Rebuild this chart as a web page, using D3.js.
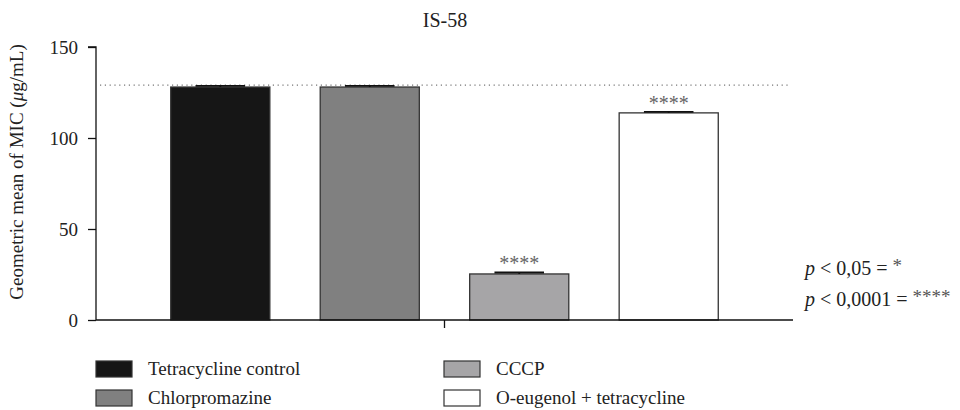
<!DOCTYPE html>
<html><head><meta charset="utf-8">
<script src="https://cdn.jsdelivr.net/npm/d3@7"></script>
<style>body{margin:0;background:#fff}svg{display:block}text{font-family:"Liberation Serif","DejaVu Serif",serif;fill:#222}</style>
</head><body>
<svg id="c" width="960" height="410"></svg>
<script>
const categories = ["Tetracycline control","Chlorpromazine","CCCP","O-eugenol + tetracycline"];
const values = [128, 128, 25.3, 113.8];
const errors = [0.6, 0.6, 0.8, 0.6];
const significance = ["", "", "****", "****"];
const colors = ["#161616","#808080","#a6a5a7","#ffffff"];
const yTicks = [0, 50, 100, 150];
const referenceLine = 129;
const title = "IS-58";

const svg = d3.select("#c");
const x0 = 96, x1 = 793, yTop = 47, yBot = 320;
const x = d3.scaleBand().domain(categories).range([x0, x1]).paddingInner(0.337).paddingOuter(0.5);
const y = d3.scaleLinear().domain([0, 150]).range([yBot, yTop]);

svg.append("text").attr("x", 445).attr("y", 27).attr("text-anchor","middle").attr("font-size",20).text(title);

// reference dotted line
svg.append("line").attr("x1", 100).attr("x2", 790).attr("y1", y(referenceLine)).attr("y2", y(referenceLine))
  .attr("stroke","#777").attr("stroke-width",1.2).attr("stroke-dasharray","1.2,3.6");

// bars
svg.selectAll("rect.bar").data(categories).enter().append("rect").attr("class","bar")
  .attr("x", d => x(d)).attr("width", x.bandwidth())
  .attr("y", (d,i) => y(values[i])).attr("height", (d,i) => y(0) - y(values[i]))
  .attr("fill", (d,i) => colors[i]).attr("stroke","#333").attr("stroke-width",1.3);

// error bars
categories.forEach((d,i) => {
  const cx = x(d) + x.bandwidth()/2, hw = x.bandwidth()/4;
  const g = svg.append("g").attr("stroke","#111").attr("stroke-width",1.8);
  g.append("line").attr("x1",cx-hw).attr("x2",cx+hw).attr("y1",y(values[i]+errors[i])).attr("y2",y(values[i]+errors[i]));
  g.append("line").attr("x1",cx).attr("x2",cx).attr("y1",y(values[i]+errors[i])).attr("y2",y(values[i]));
  if (significance[i]) {
    svg.append("text").attr("x",cx).attr("y",y(values[i]+errors[i])-2).attr("text-anchor","middle")
      .attr("font-size",20).style("fill","#666").text(significance[i]);
  }
});

// y axis
const yAxis = d3.axisLeft(y).tickValues(yTicks).tickSize(8).tickPadding(10);
const ga = svg.append("g").attr("transform",`translate(${x0},0)`).call(yAxis);
ga.select(".domain").attr("d", `M-8,${yTop}H0V${yBot}`).attr("stroke","#111").attr("stroke-width",1.3);
ga.selectAll(".tick line").attr("stroke","#111").attr("stroke-width",1.3);
ga.selectAll("text").attr("font-size",19).attr("font-family","Liberation Serif, serif").style("fill","#222");

// x axis baseline with middle tick
const gx = svg.append("g");
gx.append("line").attr("x1",x0).attr("x2",x1).attr("y1",yBot).attr("y2",yBot).attr("stroke","#111").attr("stroke-width",1.3);
gx.append("line").attr("x1",(x0+x1)/2).attr("x2",(x0+x1)/2).attr("y1",yBot).attr("y2",yBot+8).attr("stroke","#111").attr("stroke-width",1.3);

// y label
svg.append("text").attr("transform","translate(23,172) rotate(-90)").attr("text-anchor","middle").attr("font-size",19)
  .html('Geometric mean of MIC (<tspan font-style="italic">μ</tspan>g/mL)');

// p-value notes
const pNotes = [["0,05","*"],["0,0001","****"]];
pNotes.forEach((p,i) => {
  const t = svg.append("text").attr("x",805).attr("y",275+i*31).attr("font-size",20);
  t.append("tspan").attr("font-style","italic").text("p");
  t.append("tspan").text(" < " + p[0] + " = ");
  t.append("tspan").attr("dy",-3).attr("font-size",19).style("fill","#555").text(p[1]);
});

// legend
const legX = [96, 444], legY = [361, 390];
categories.forEach((d,i) => {
  const col = Math.floor(i/2), row = i%2;
  svg.append("rect").attr("x",legX[col]).attr("y",legY[row]).attr("width",36).attr("height",16)
    .attr("fill",colors[i]).attr("stroke","#333").attr("stroke-width",1.2);
  svg.append("text").attr("x",legX[col]+52).attr("y",legY[row]+14).attr("font-size",19).text(d);
});
</script>
</body></html>
